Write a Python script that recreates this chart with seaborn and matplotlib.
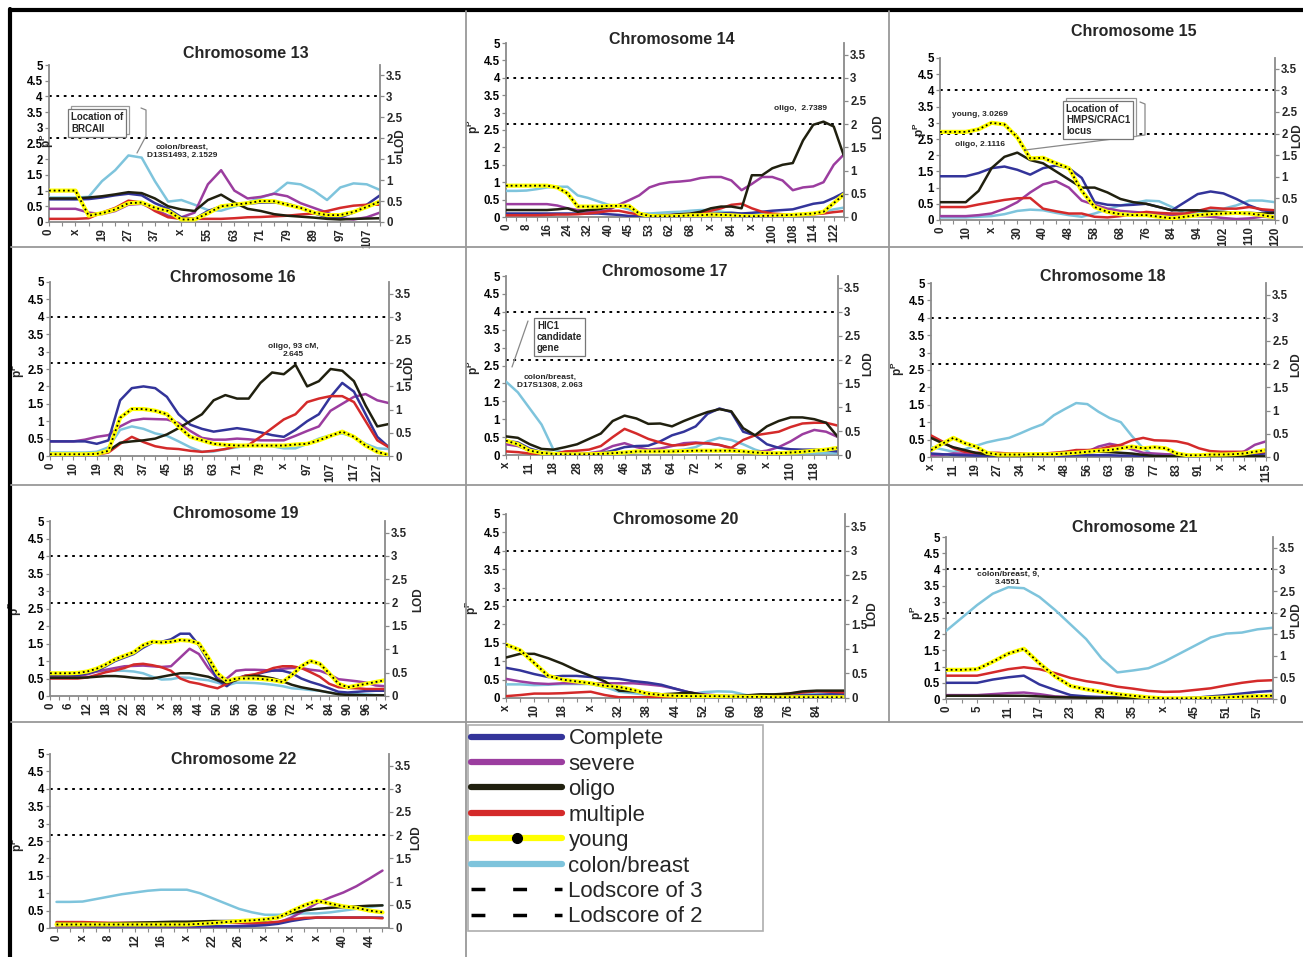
import numpy as np
import matplotlib
matplotlib.use("Agg")
import matplotlib.pyplot as plt
import seaborn as sns
from matplotlib.lines import Line2D
from matplotlib.patches import Rectangle
from matplotlib.ticker import FixedLocator, FuncFormatter

# ---------------- data ----------------
chr13_labels = ['0', 'x', '19', '27', '37', 'x', '55', '63', '71', '79', '89', '97', '107']
chr13_complete = [0.72, 0.72, 0.72, 0.73, 0.78, 0.85, 0.9, 0.85, 0.6, 0.42, 0.15, 0.1, 0.35, 0.5, 0.55, 0.58, 0.62, 0.62, 0.58, 0.45, 0.28, 0.15, 0.15, 0.3, 0.55, 0.85]
chr13_severe = [0.42, 0.42, 0.42, 0.3, 0.25, 0.35, 0.55, 0.58, 0.4, 0.2, 0.15, 0.3, 1.2, 1.65, 1.0, 0.75, 0.8, 0.9, 0.82, 0.6, 0.45, 0.3, 0.12, 0.08, 0.15, 0.3]
chr13_oligo = [0.75, 0.75, 0.75, 0.78, 0.82, 0.88, 0.95, 0.92, 0.75, 0.5, 0.4, 0.35, 0.7, 0.87, 0.62, 0.42, 0.35, 0.25, 0.2, 0.17, 0.14, 0.1, 0.08, 0.1, 0.11, 0.12]
chr13_multiple = [0.1, 0.1, 0.1, 0.12, 0.3, 0.45, 0.68, 0.62, 0.35, 0.15, 0.1, 0.1, 0.1, 0.1, 0.12, 0.15, 0.16, 0.18, 0.2, 0.24, 0.27, 0.35, 0.45, 0.52, 0.55, 0.55]
chr13_young = [1.0, 1.0, 1.0, 0.2, 0.28, 0.4, 0.6, 0.62, 0.45, 0.35, 0.08, 0.08, 0.28, 0.5, 0.55, 0.6, 0.67, 0.66, 0.55, 0.45, 0.3, 0.22, 0.22, 0.32, 0.48, 0.65]
chr13_colon = [0.78, 0.78, 0.78, 0.8, 1.3, 1.65, 2.12, 2.05, 1.3, 0.65, 0.7, 0.55, 0.38, 0.36, 0.49, 0.62, 0.78, 0.91, 1.25, 1.2, 1.0, 0.7, 1.1, 1.23, 1.2, 1.02]

chr14_labels = ['0', '8', '16', '24', '32', '40', '45', '53', '62', '68', 'x', '84', 'x', '100', '108', '114', '122']
chr14_complete = [0.1, 0.1, 0.1, 0.1, 0.1, 0.1, 0.1, 0.1, 0.1, 0.1, 0.08, 0.06, 0.03, 0.02, 0.04, 0.05, 0.06, 0.07, 0.08, 0.1, 0.1, 0.1, 0.12, 0.1, 0.12, 0.15, 0.18, 0.2, 0.22, 0.3, 0.38, 0.42, 0.55, 0.7]
chr14_severe = [0.37, 0.37, 0.37, 0.37, 0.37, 0.33, 0.25, 0.2, 0.18, 0.15, 0.2, 0.35, 0.48, 0.62, 0.85, 0.95, 1.0, 1.02, 1.05, 1.12, 1.15, 1.15, 1.05, 0.77, 0.95, 1.15, 1.15, 1.05, 0.77, 0.85, 0.88, 1.0, 1.5, 1.8]
chr14_oligo = [0.2, 0.2, 0.2, 0.2, 0.2, 0.22, 0.25, 0.15, 0.2, 0.22, 0.28, 0.3, 0.3, 0.1, 0.05, 0.05, 0.05, 0.08, 0.1, 0.15, 0.25, 0.3, 0.3, 0.25, 1.2, 1.2, 1.4, 1.5, 1.55, 2.2, 2.65, 2.74, 2.6, 1.75]
chr14_multiple = [0.05, 0.05, 0.05, 0.05, 0.06, 0.07, 0.07, 0.08, 0.1, 0.13, 0.17, 0.18, 0.12, 0.07, 0.05, 0.05, 0.05, 0.06, 0.08, 0.12, 0.18, 0.25, 0.35, 0.38, 0.25, 0.15, 0.1, 0.08, 0.05, 0.06, 0.08, 0.1, 0.14, 0.17]
chr14_young = [0.9, 0.9, 0.9, 0.9, 0.9, 0.85, 0.68, 0.3, 0.3, 0.3, 0.32, 0.32, 0.32, 0.1, 0.03, 0.02, 0.02, 0.03, 0.05, 0.05, 0.07, 0.06, 0.05, 0.03, 0.02, 0.03, 0.04, 0.05, 0.06, 0.08, 0.1, 0.15, 0.4, 0.65]
chr14_colon = [0.75, 0.75, 0.76, 0.8, 0.85, 0.87, 0.87, 0.62, 0.55, 0.45, 0.35, 0.3, 0.22, 0.1, 0.1, 0.12, 0.14, 0.15, 0.18, 0.2, 0.2, 0.15, 0.12, 0.1, 0.1, 0.08, 0.05, 0.05, 0.05, 0.07, 0.1, 0.15, 0.22, 0.27]

chr15_labels = ['0', '10', 'x', '30', '40', '48', '58', '68', '76', '84', '94', '102', '110', '120']
chr15_complete = [1.35, 1.35, 1.35, 1.45, 1.6, 1.65, 1.55, 1.4, 1.6, 1.68, 1.6, 1.3, 0.55, 0.47, 0.45, 0.47, 0.5, 0.4, 0.3, 0.55, 0.8, 0.88, 0.82, 0.65, 0.45, 0.3, 0.25]
chr15_severe = [0.12, 0.12, 0.12, 0.15, 0.2, 0.35, 0.55, 0.85, 1.1, 1.2, 1.0, 0.6, 0.47, 0.35, 0.28, 0.25, 0.22, 0.18, 0.15, 0.15, 0.12, 0.1, 0.06, 0.03, 0.05, 0.1, 0.08]
chr15_oligo = [0.55, 0.55, 0.55, 0.9, 1.6, 1.95, 2.08, 1.85, 1.75, 1.5, 1.25, 1.0, 1.0, 0.85, 0.65, 0.55, 0.5, 0.4, 0.3, 0.3, 0.3, 0.25, 0.25, 0.22, 0.22, 0.2, 0.22]
chr15_multiple = [0.4, 0.4, 0.4, 0.48, 0.55, 0.62, 0.67, 0.68, 0.35, 0.27, 0.2, 0.2, 0.1, 0.08, 0.12, 0.18, 0.25, 0.22, 0.2, 0.2, 0.28, 0.38, 0.35, 0.35, 0.4, 0.33, 0.3]
chr15_young = [2.72, 2.72, 2.72, 2.8, 3.0, 2.95, 2.55, 1.9, 1.92, 1.75, 1.6, 0.9, 0.4, 0.25, 0.18, 0.15, 0.15, 0.1, 0.05, 0.1, 0.15, 0.18, 0.2, 0.22, 0.2, 0.15, 0.08]
chr15_colon = [0.08, 0.08, 0.08, 0.1, 0.12, 0.18, 0.28, 0.32, 0.3, 0.22, 0.15, 0.1, 0.2, 0.33, 0.45, 0.52, 0.6, 0.58, 0.4, 0.2, 0.22, 0.3, 0.35, 0.45, 0.6, 0.6, 0.55]

chr16_labels = ['0', '10', '19', '29', '37', '45', '55', '63', '71', '79', 'x', '97', '107', '117', '127']
chr16_complete = [0.42, 0.42, 0.42, 0.42, 0.35, 0.45, 1.6, 1.95, 2.0, 1.95, 1.7, 1.2, 0.9, 0.78, 0.7, 0.75, 0.8, 0.75, 0.68, 0.6, 0.55, 0.75, 1.0, 1.2, 1.7, 2.1, 1.85, 1.2, 0.55, 0.25]
chr16_severe = [0.42, 0.42, 0.42, 0.47, 0.55, 0.6, 0.85, 1.02, 1.07, 1.06, 1.05, 0.95, 0.72, 0.52, 0.47, 0.47, 0.5, 0.48, 0.45, 0.45, 0.45, 0.58, 0.72, 0.85, 1.3, 1.5, 1.7, 1.78, 1.6, 1.52]
chr16_oligo = [0.05, 0.05, 0.05, 0.05, 0.07, 0.15, 0.38, 0.42, 0.45, 0.5, 0.62, 0.8, 1.0, 1.2, 1.6, 1.75, 1.65, 1.65, 2.1, 2.4, 2.35, 2.62, 2.0, 2.15, 2.5, 2.45, 2.15, 1.45, 0.85, 0.92]
chr16_multiple = [0.02, 0.02, 0.02, 0.02, 0.04, 0.1, 0.35, 0.55, 0.4, 0.28, 0.22, 0.2, 0.15, 0.12, 0.15, 0.2, 0.28, 0.32, 0.55, 0.8, 1.05, 1.2, 1.55, 1.65, 1.72, 1.72, 1.55, 1.0, 0.45, 0.25]
chr16_young = [0.05, 0.05, 0.05, 0.05, 0.06, 0.15, 1.1, 1.35, 1.35, 1.3, 1.2, 0.85, 0.55, 0.45, 0.35, 0.32, 0.3, 0.3, 0.3, 0.3, 0.3, 0.33, 0.35, 0.45, 0.58, 0.7, 0.55, 0.3, 0.12, 0.02]
chr16_colon = [0.1, 0.1, 0.1, 0.1, 0.12, 0.25, 0.75, 0.85, 0.78, 0.65, 0.58, 0.42, 0.25, 0.12, 0.13, 0.2, 0.25, 0.3, 0.32, 0.28, 0.22, 0.22, 0.35, 0.5, 0.6, 0.65, 0.55, 0.35, 0.22, 0.2]

chr17_labels = ['x', '11', '18', '28', '38', '46', '54', '64', '72', 'x', '90', 'x', '110', '118']
chr17_complete = [0.4, 0.35, 0.18, 0.08, 0.05, 0.04, 0.03, 0.03, 0.05, 0.12, 0.22, 0.25, 0.26, 0.38, 0.55, 0.65, 0.8, 1.15, 1.3, 1.2, 0.65, 0.55, 0.3, 0.2, 0.16, 0.15, 0.15, 0.13, 0.1]
chr17_severe = [0.3, 0.25, 0.12, 0.05, 0.03, 0.03, 0.03, 0.05, 0.1, 0.25, 0.33, 0.22, 0.15, 0.18, 0.25, 0.33, 0.35, 0.32, 0.28, 0.18, 0.1, 0.08, 0.12, 0.22, 0.38, 0.58, 0.7, 0.65, 0.5]
chr17_oligo = [0.52, 0.48, 0.3, 0.17, 0.15, 0.22, 0.3, 0.45, 0.6, 0.95, 1.1, 1.02, 0.87, 0.88, 0.8, 0.95, 1.08, 1.2, 1.28, 1.22, 0.75, 0.55, 0.8, 0.95, 1.05, 1.05, 1.0, 0.9, 0.5]
chr17_multiple = [0.1, 0.08, 0.04, 0.03, 0.03, 0.1, 0.12, 0.15, 0.25, 0.5, 0.73, 0.6, 0.45, 0.35, 0.27, 0.28, 0.33, 0.33, 0.28, 0.2, 0.42, 0.55, 0.6, 0.65, 0.78, 0.88, 0.9, 0.9, 0.82]
chr17_young = [0.4, 0.3, 0.12, 0.06, 0.03, 0.02, 0.02, 0.02, 0.03, 0.05, 0.07, 0.1, 0.1, 0.1, 0.1, 0.11, 0.12, 0.12, 0.12, 0.12, 0.1, 0.07, 0.05, 0.05, 0.07, 0.09, 0.12, 0.15, 0.2]
chr17_colon = [2.05, 1.75, 1.3, 0.85, 0.15, 0.05, 0.02, 0.02, 0.02, 0.03, 0.05, 0.08, 0.1, 0.1, 0.12, 0.15, 0.22, 0.38, 0.48, 0.42, 0.3, 0.15, 0.05, 0.05, 0.05, 0.05, 0.05, 0.05, 0.05]

chr18_labels = ['x', '11', '19', '27', '34', 'x', '48', '56', '63', '69', '77', '83', '91', 'x', 'x', '115']
chr18_complete = [0.1, 0.08, 0.06, 0.05, 0.04, 0.04, 0.04, 0.04, 0.04, 0.04, 0.04, 0.04, 0.04, 0.05, 0.05, 0.05, 0.05, 0.04, 0.04, 0.03, 0.03, 0.03, 0.03, 0.03, 0.03, 0.03, 0.04, 0.05, 0.06, 0.08, 0.1]
chr18_severe = [0.05, 0.06, 0.1, 0.1, 0.08, 0.05, 0.05, 0.05, 0.05, 0.05, 0.05, 0.05, 0.06, 0.08, 0.15, 0.3, 0.38, 0.32, 0.22, 0.12, 0.1, 0.08, 0.07, 0.05, 0.05, 0.05, 0.05, 0.08, 0.15, 0.35, 0.45]
chr18_oligo = [0.55, 0.4, 0.28, 0.2, 0.12, 0.08, 0.05, 0.05, 0.05, 0.05, 0.07, 0.1, 0.12, 0.12, 0.14, 0.15, 0.14, 0.12, 0.1, 0.06, 0.03, 0.02, 0.02, 0.02, 0.02, 0.02, 0.02, 0.02, 0.02, 0.02, 0.02]
chr18_multiple = [0.62, 0.45, 0.25, 0.15, 0.12, 0.12, 0.12, 0.1, 0.1, 0.08, 0.1, 0.12, 0.15, 0.2, 0.2, 0.22, 0.3, 0.35, 0.48, 0.55, 0.48, 0.47, 0.45, 0.38, 0.25, 0.17, 0.15, 0.15, 0.15, 0.12, 0.15]
chr18_young = [0.2, 0.38, 0.55, 0.4, 0.3, 0.12, 0.07, 0.07, 0.07, 0.08, 0.08, 0.08, 0.1, 0.12, 0.15, 0.18, 0.2, 0.25, 0.3, 0.25, 0.28, 0.25, 0.1, 0.05, 0.05, 0.07, 0.07, 0.08, 0.1, 0.15, 0.2]
chr18_colon = [0.29, 0.22, 0.15, 0.22, 0.32, 0.42, 0.49, 0.55, 0.68, 0.82, 0.94, 1.2, 1.38, 1.55, 1.52, 1.3, 1.12, 1.0, 0.6, 0.25, 0.03, 0.02, 0.02, 0.02, 0.02, 0.02, 0.02, 0.02, 0.02, 0.02, 0.02]

chr19_labels = ['0', '6', '12', '18', '22', '28', 'x', '38', '44', '50', '56', '60', '66', '72', 'x', '84', '90', '96', 'x']
chr19_complete = [0.6, 0.6, 0.6, 0.6, 0.65, 0.72, 0.85, 1.0, 1.1, 1.2, 1.38, 1.52, 1.55, 1.62, 1.78, 1.78, 1.45, 1.0, 0.45, 0.28, 0.5, 0.58, 0.6, 0.68, 0.73, 0.72, 0.65, 0.5, 0.4, 0.32, 0.22, 0.12, 0.1, 0.12, 0.14, 0.15, 0.15]
chr19_severe = [0.55, 0.55, 0.55, 0.56, 0.62, 0.7, 0.75, 0.8, 0.85, 0.86, 0.87, 0.85, 0.83, 0.85, 1.1, 1.35, 1.2, 0.8, 0.5, 0.5, 0.72, 0.75, 0.75, 0.74, 0.72, 0.78, 0.8, 0.8, 0.75, 0.72, 0.62, 0.48, 0.45, 0.42, 0.38, 0.3, 0.28]
chr19_oligo = [0.52, 0.52, 0.52, 0.52, 0.53, 0.55, 0.57, 0.57, 0.55, 0.52, 0.5, 0.5, 0.55, 0.6, 0.65, 0.65, 0.6, 0.55, 0.45, 0.38, 0.45, 0.55, 0.58, 0.55, 0.5, 0.42, 0.32, 0.25, 0.2, 0.15, 0.1, 0.05, 0.03, 0.03, 0.02, 0.02, 0.02]
chr19_multiple = [0.5, 0.5, 0.5, 0.5, 0.53, 0.6, 0.68, 0.73, 0.8, 0.9, 0.92, 0.88, 0.82, 0.72, 0.5, 0.4, 0.35, 0.28, 0.22, 0.35, 0.48, 0.58, 0.62, 0.7, 0.8, 0.85, 0.85, 0.8, 0.68, 0.55, 0.35, 0.25, 0.23, 0.22, 0.2, 0.2, 0.2]
chr19_young = [0.65, 0.65, 0.65, 0.66, 0.7, 0.78, 0.9, 1.05, 1.15, 1.25, 1.45, 1.55, 1.53, 1.55, 1.6, 1.58, 1.5, 1.1, 0.65, 0.42, 0.5, 0.5, 0.5, 0.48, 0.45, 0.4, 0.6, 0.85, 1.0, 0.92, 0.65, 0.35, 0.25, 0.3, 0.35, 0.4, 0.45]
chr19_colon = [0.62, 0.62, 0.62, 0.63, 0.66, 0.7, 0.72, 0.72, 0.72, 0.7, 0.65, 0.55, 0.47, 0.48, 0.53, 0.52, 0.48, 0.45, 0.38, 0.3, 0.38, 0.38, 0.37, 0.35, 0.32, 0.28, 0.22, 0.2, 0.17, 0.15, 0.1, 0.06, 0.05, 0.05, 0.05, 0.03, 0.02]

chr20_labels = ['x', '10', '18', 'x', '32', '38', '44', '52', '60', '68', '76', '84']
chr20_complete = [0.82, 0.75, 0.65, 0.57, 0.6, 0.6, 0.57, 0.55, 0.52, 0.46, 0.42, 0.36, 0.25, 0.15, 0.08, 0.05, 0.05, 0.05, 0.05, 0.05, 0.06, 0.07, 0.08, 0.1, 0.1]
chr20_severe = [0.52, 0.45, 0.4, 0.38, 0.4, 0.4, 0.4, 0.4, 0.4, 0.4, 0.37, 0.33, 0.25, 0.15, 0.1, 0.07, 0.05, 0.05, 0.05, 0.05, 0.05, 0.06, 0.07, 0.08, 0.08]
chr20_oligo = [1.1, 1.2, 1.2, 1.08, 0.93, 0.75, 0.6, 0.45, 0.2, 0.18, 0.14, 0.1, 0.12, 0.15, 0.08, 0.05, 0.05, 0.07, 0.1, 0.1, 0.12, 0.18, 0.2, 0.2, 0.2]
chr20_multiple = [0.05, 0.08, 0.12, 0.12, 0.13, 0.15, 0.17, 0.08, 0.02, 0.02, 0.02, 0.02, 0.02, 0.02, 0.02, 0.02, 0.02, 0.02, 0.04, 0.08, 0.12, 0.15, 0.18, 0.17, 0.15]
chr20_young = [1.45, 1.3, 0.95, 0.6, 0.5, 0.45, 0.4, 0.33, 0.3, 0.22, 0.12, 0.08, 0.06, 0.05, 0.05, 0.05, 0.04, 0.03, 0.03, 0.02, 0.02, 0.02, 0.02, 0.02, 0.02]
chr20_colon = [0.37, 0.37, 0.35, 0.36, 0.38, 0.38, 0.38, 0.3, 0.17, 0.13, 0.09, 0.08, 0.08, 0.1, 0.16, 0.18, 0.17, 0.08, 0.05, 0.05, 0.07, 0.1, 0.12, 0.12, 0.12]

chr21_labels = ['0', '5', '11', '17', '23', '29', '35', 'x', '45', '51', '57']
chr21_complete = [0.5, 0.5, 0.5, 0.6, 0.67, 0.72, 0.45, 0.28, 0.12, 0.08, 0.06, 0.05, 0.03, 0.02, 0.02, 0.02, 0.04, 0.08, 0.12, 0.17, 0.22, 0.25]
chr21_severe = [0.12, 0.12, 0.12, 0.15, 0.18, 0.2, 0.15, 0.08, 0.06, 0.05, 0.05, 0.05, 0.1, 0.05, 0.02, 0.02, 0.02, 0.02, 0.02, 0.03, 0.04, 0.05]
chr21_oligo = [0.1, 0.1, 0.1, 0.1, 0.1, 0.1, 0.08, 0.06, 0.05, 0.04, 0.03, 0.03, 0.02, 0.02, 0.02, 0.02, 0.03, 0.04, 0.05, 0.07, 0.1, 0.12]
chr21_multiple = [0.72, 0.72, 0.72, 0.82, 0.92, 0.98, 0.92, 0.8, 0.65, 0.55, 0.48, 0.38, 0.32, 0.25, 0.22, 0.23, 0.28, 0.33, 0.42, 0.5, 0.56, 0.58]
chr21_young = [0.9, 0.9, 0.92, 1.15, 1.4, 1.55, 1.1, 0.7, 0.4, 0.3, 0.22, 0.15, 0.1, 0.05, 0.02, 0.02, 0.02, 0.03, 0.05, 0.07, 0.09, 0.1]
chr21_colon = [2.1, 2.5, 2.9, 3.25, 3.45, 3.42, 3.15, 2.75, 2.3, 1.85, 1.25, 0.82, 0.88, 0.95, 1.15, 1.4, 1.65, 1.9, 2.02, 2.05, 2.15, 2.2]

chr22_labels = ['0', 'x', '8', '12', '16', 'x', '22', '26', 'x', 'x', 'x', '40', '44']
chr22_complete = [0.08, 0.07, 0.06, 0.05, 0.05, 0.05, 0.05, 0.05, 0.05, 0.05, 0.05, 0.05, 0.05, 0.05, 0.05, 0.06, 0.08, 0.12, 0.2, 0.26, 0.3, 0.3, 0.3, 0.3, 0.3, 0.3]
chr22_severe = [0.05, 0.05, 0.05, 0.05, 0.05, 0.05, 0.05, 0.05, 0.05, 0.04, 0.04, 0.04, 0.04, 0.05, 0.06, 0.08, 0.1, 0.15, 0.3, 0.5, 0.72, 0.88, 1.02, 1.2, 1.42, 1.65]
chr22_oligo = [0.12, 0.12, 0.12, 0.12, 0.13, 0.14, 0.15, 0.16, 0.17, 0.18, 0.18, 0.19, 0.2, 0.2, 0.2, 0.21, 0.22, 0.3, 0.43, 0.5, 0.55, 0.58, 0.6, 0.62, 0.64, 0.65]
chr22_multiple = [0.17, 0.17, 0.17, 0.16, 0.15, 0.15, 0.15, 0.15, 0.15, 0.15, 0.15, 0.15, 0.15, 0.15, 0.15, 0.15, 0.15, 0.18, 0.25, 0.29, 0.3, 0.3, 0.3, 0.3, 0.3, 0.28]
chr22_young = [0.1, 0.1, 0.1, 0.1, 0.1, 0.1, 0.1, 0.1, 0.1, 0.1, 0.1, 0.12, 0.14, 0.17, 0.2, 0.22, 0.25, 0.3, 0.48, 0.65, 0.78, 0.7, 0.62, 0.58, 0.5, 0.45]
chr22_colon = [0.75, 0.75, 0.76, 0.83, 0.9, 0.97, 1.02, 1.07, 1.1, 1.1, 1.1, 1.0, 0.85, 0.7, 0.55, 0.45, 0.38, 0.38, 0.4, 0.42, 0.42, 0.45, 0.5, 0.55, 0.6, 0.65]

series_names = ['Complete', 'severe', 'oligo', 'multiple', 'young', 'colon/breast']
lod3_pp = 4.0       # pP level that matches LOD 3
lod2_pp = 8 / 3     # pP level that matches LOD 2

panels = {
    '13': (chr13_labels, [chr13_complete, chr13_severe, chr13_oligo, chr13_multiple, chr13_young, chr13_colon]),
    '14': (chr14_labels, [chr14_complete, chr14_severe, chr14_oligo, chr14_multiple, chr14_young, chr14_colon]),
    '15': (chr15_labels, [chr15_complete, chr15_severe, chr15_oligo, chr15_multiple, chr15_young, chr15_colon]),
    '16': (chr16_labels, [chr16_complete, chr16_severe, chr16_oligo, chr16_multiple, chr16_young, chr16_colon]),
    '17': (chr17_labels, [chr17_complete, chr17_severe, chr17_oligo, chr17_multiple, chr17_young, chr17_colon]),
    '18': (chr18_labels, [chr18_complete, chr18_severe, chr18_oligo, chr18_multiple, chr18_young, chr18_colon]),
    '19': (chr19_labels, [chr19_complete, chr19_severe, chr19_oligo, chr19_multiple, chr19_young, chr19_colon]),
    '20': (chr20_labels, [chr20_complete, chr20_severe, chr20_oligo, chr20_multiple, chr20_young, chr20_colon]),
    '21': (chr21_labels, [chr21_complete, chr21_severe, chr21_oligo, chr21_multiple, chr21_young, chr21_colon]),
    '22': (chr22_labels, [chr22_complete, chr22_severe, chr22_oligo, chr22_multiple, chr22_young, chr22_colon]),
}

# ---------------- layout (pixels of the 1303x957 canvas) ----------------
W, H = 1303, 957
layout = {
    # plot box (left, right, top, bottom), title centre, pP label, LOD label, x padding
    '13': dict(box=(49, 380, 65, 222), title=(246, 53), plab=(-0.005, 0.52), lod=(1.06, 0.52), pad=0),
    '14': dict(box=(506, 844, 43, 217), title=(672, 40), plab=(-0.095, 0.52), lod=(1.10, 0.52), pad=0),
    '15': dict(box=(940, 1275, 58, 220), title=(1134, 31), plab=(-0.06, 0.56), lod=(1.067, 0.52), pad=0),
    '16': dict(box=(50, 389, 282, 456), title=(233, 278), plab=(-0.095, 0.49), lod=(1.06, 0.51), pad=0),
    '17': dict(box=(506, 838, 276, 455), title=(665, 271), plab=(-0.097, 0.49), lod=(1.09, 0.51), pad=0),
    '18': dict(box=(931, 1266, 283, 457), title=(1103, 277), plab=(-0.10, 0.51), lod=(1.09, 0.53), pad=0),
    '19': dict(box=(50, 385, 521, 696), title=(236, 514), plab=(-0.105, 0.50), lod=(1.10, 0.55), pad=0),
    '20': dict(box=(506, 845, 514, 698), title=(676, 519), plab=(-0.10, 0.49), lod=(1.08, 0.46), pad=0),
    '21': dict(box=(946, 1273, 537, 699), title=(1135, 528), plab=(-0.09, 0.53), lod=(1.07, 0.52), pad=0),
    '22': dict(box=(50, 389, 754, 928), title=(234, 759), plab=(-0.095, 0.48), lod=(1.08, 0.52), pad=0.5),
}

colors = {
    'Complete': '#33349A',
    'severe': '#9B3D9F',
    'oligo': '#20200F',
    'multiple': '#D42A2A',
    'young': '#FFFF00',
    'colon/breast': '#7EC4DC',
}
draw_order = ['colon/breast', 'severe', 'Complete', 'multiple', 'oligo', 'young']
GRAY = '#8a8a8a'


def fx(x):
    return x / W


def fy(y):
    return 1 - y / H


sns.set_theme(style='white')
plt.rcParams['font.family'] = ['Liberation Sans', 'DejaVu Sans']
plt.rcParams['font.weight'] = 'bold'
plt.rcParams['mathtext.fontset'] = 'custom'
plt.rcParams['mathtext.rm'] = 'Liberation Sans:bold'
plt.rcParams['mathtext.it'] = 'Liberation Sans:bold'
plt.rcParams['mathtext.bf'] = 'Liberation Sans:bold'

fig = plt.figure(figsize=(W / 100, H / 100), dpi=100, facecolor='white')

fmt = FuncFormatter(lambda v, p: '%g' % v)

for chrom, (labels, values) in panels.items():
    L = layout[chrom]
    l, r, t, b = L['box']
    ax = fig.add_axes([fx(l), fy(b), (r - l) / W, (b - t) / H])
    ax.patch.set_alpha(0)
    data = dict(zip(series_names, values))
    n = len(values[0])
    idx = np.arange(n)

    # LOD 3 / LOD 2 reference lines
    for lvl in (lod3_pp, lod2_pp):
        ax.axhline(lvl, color='black', lw=1.4, ls=(0, (1.4, 2.4)), zorder=1)

    for name in draw_order:
        y = data[name]
        if name == 'young':
            sns.lineplot(x=idx, y=y, color=colors[name], lw=3.0, ax=ax,
                         estimator=None, errorbar=None, sort=False, zorder=5)
            sns.lineplot(x=idx, y=y, color='black', lw=1.3, ls=(0, (1, 1.6)), ax=ax,
                         estimator=None, errorbar=None, sort=False, zorder=6)
        else:
            sns.lineplot(x=idx, y=y, color=colors[name], lw=1.8, ax=ax,
                         estimator=None, errorbar=None, sort=False, zorder=3)

    pad = L['pad']
    ax.set_xlim(-pad, n - 1 + pad)
    ax.set_ylim(0, 5)
    ax.set_xlabel('')
    ax.set_ylabel('')
    ax.xaxis.set_major_locator(FixedLocator(list(range(0, 2 * len(labels), 2))))
    ax.set_xticklabels(labels)
    ax.xaxis.set_minor_locator(FixedLocator(list(range(n))))
    ax.set_yticks(np.arange(0, 5.01, 0.5))
    ax.yaxis.set_major_formatter(fmt)
    for s in ('top', 'right'):
        ax.spines[s].set_visible(False)
    for s in ('left', 'bottom'):
        ax.spines[s].set_color(GRAY)
        ax.spines[s].set_linewidth(1.3)
    ax.tick_params(axis='y', which='major', direction='out', length=3, width=0.9,
                   color=GRAY, labelsize=8.3, pad=1.5, labelcolor='black', left=True)
    ax.tick_params(axis='x', which='both', direction='out', length=3, width=0.8,
                   color=GRAY, labelsize=8.3, pad=1.5, labelrotation=90, bottom=True)

    ax2 = ax.twinx()
    ax2.set_ylim(0, 3.75)
    ax2.set_yticks(np.arange(0, 3.51, 0.5))
    ax2.yaxis.set_major_formatter(fmt)
    ax2.grid(False)
    for s in ('top', 'left', 'bottom'):
        ax2.spines[s].set_visible(False)
    ax2.spines['right'].set_color(GRAY)
    ax2.spines['right'].set_linewidth(1.3)
    ax2.tick_params(axis='y', direction='out', length=3, width=0.9, color=GRAY,
                    labelsize=8.3, pad=1.5, right=True)

    px_, py_ = L['plab']
    ax.text(px_, py_, 'p$^{P}$', transform=ax.transAxes, rotation=90,
            ha='center', va='center', fontsize=8.5)
    lx, ly = L['lod']
    ax.text(lx, ly, 'LOD', transform=ax.transAxes, rotation=90,
            ha='center', va='center', fontsize=8.5)

    tx, ty = L['title']
    fig.text(fx(tx), fy(ty), 'Chromosome ' + chrom, ha='center', va='center',
             fontsize=11.5, fontweight='bold')

# ---------------- annotations ----------------
note_kw = dict(ha='center', va='center', fontsize=6, fontweight='bold',
               multialignment='center')
fig.text(fx(182), fy(151), 'colon/breast,\nD13S1493, 2.1529', **note_kw)
fig.text(fx(800), fy(109), 'oligo,  2.7389', **note_kw)
fig.text(fx(980), fy(114), 'young, 3.0269', **note_kw)
fig.text(fx(980), fy(145), 'oligo, 2.1116', **note_kw)
fig.text(fx(293), fy(350), 'oligo, 93 cM,\n2.645', **note_kw)
fig.text(fx(550), fy(381), 'colon/breast,\nD17S1308, 2.063', **note_kw)
fig.text(fx(1008), fy(578), 'colon/breast, 9,\n3.4551', **note_kw)

box_kw = dict(ha='left', va='center', fontsize=7, fontweight='bold', linespacing=1.15,
              zorder=5)
boxes = [
    (fig.text(fx(71), fy(123), 'Location of\nBRCAII', **box_kw), True),
    (fig.text(fx(1066), fy(120), 'Location of\nHMPS/CRAC1\nlocus', **box_kw), True),
    (fig.text(fx(537), fy(337), 'HIC1\ncandidate\ngene', **box_kw), False),
]
for txt, _ in boxes:
    txt.set_bbox(dict(boxstyle='square,pad=0.3', fc='white', ec='#777777', lw=0.9))

# shadow frames behind the callout boxes (offset up and right)
fig.canvas.draw()
renderer = fig.canvas.get_renderer()
for txt, shadow in boxes:
    if not shadow:
        continue
    bb = txt.get_bbox_patch().get_window_extent(renderer)
    fig.add_artist(Rectangle((bb.x0 / W + 3 / W, bb.y0 / H + 3 / H), bb.width / W, bb.height / H,
                             transform=fig.transFigure, fc='white', ec='#999999',
                             lw=0.9, zorder=4))


def fig_line(pts, color='#888888', lw=0.9):
    xs = [fx(p[0]) for p in pts]
    ys = [fy(p[1]) for p in pts]
    fig.add_artist(Line2D(xs, ys, transform=fig.transFigure, color=color, lw=lw))


fig_line([(141, 108), (146, 110), (146, 136), (137, 153)])
fig_line([(1140, 102), (1145, 104), (1145, 135), (1025, 150)])
fig_line([(528, 321), (512, 367)])

# ---------------- legend ----------------
handles = [
    Line2D([], [], color=colors['Complete'], lw=4.5),
    Line2D([], [], color=colors['severe'], lw=4.5),
    Line2D([], [], color=colors['oligo'], lw=4.5),
    Line2D([], [], color=colors['multiple'], lw=4.5),
    Line2D([], [], color=colors['young'], lw=4.5, marker='o', ms=7,
           mfc='black', mec='black'),
    Line2D([], [], color=colors['colon/breast'], lw=4.5),
    Line2D([], [], color='black', lw=2.5, ls=(0, (4, 8))),
    Line2D([], [], color='black', lw=2.5, ls=(0, (4, 8))),
]
legend_labels = series_names + ['Lodscore of 3', 'Lodscore of 2']
leg = fig.legend(handles, legend_labels, loc='upper left',
                 bbox_to_anchor=(fx(468), fy(933), (763 - 468) / W, (933 - 725) / H),
                 mode='expand', frameon=True, fancybox=False, edgecolor='#999999',
                 prop={'size': 16, 'weight': 'normal'}, handlelength=4.1,
                 handletextpad=0.27, labelspacing=0.2, borderpad=0.15,
                 borderaxespad=0, numpoints=1)
leg.get_frame().set_linewidth(1.2)

# ---------------- panel frame lines ----------------
fig_line([(10, 10), (1303, 10)], color='black', lw=3)
fig_line([(10, 9), (10, 957)], color='black', lw=3)
fig_line([(466, 11), (466, 957)], color='#999999', lw=1.3)
fig_line([(889, 11), (889, 722)], color='#999999', lw=1.3)
for yy in (247, 485, 722):
    fig_line([(11, yy), (1303, yy)], color='#999999', lw=1.3)

fig.savefig('out.png', dpi=100, facecolor='white')
